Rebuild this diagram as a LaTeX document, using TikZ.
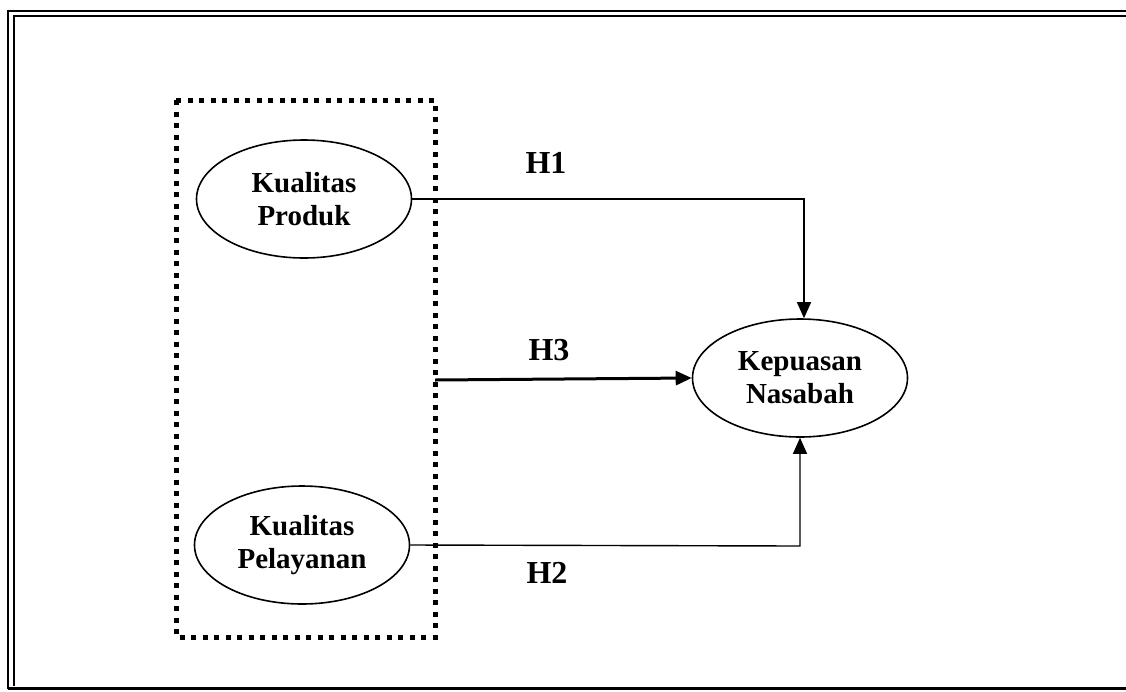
\documentclass[tikz,border=0pt]{standalone}
\usepackage{fontspec}
\setmainfont{Liberation Serif}
\usetikzlibrary{shapes.geometric,arrows.meta}
\begin{document}
\begin{tikzpicture}[x=1pt,y=-1pt,
  var/.style={draw,ellipse,line width=1.6pt,minimum width=215pt,minimum height=118pt,inner sep=0pt,align=center,font=\fontsize{29}{33}\selectfont\bfseries},
  hlab/.style={font=\fontsize{32}{34}\selectfont\bfseries,inner sep=0pt},
  conn/.style={line width=1.4pt},
  tip/.style={-{Triangle[length=16pt,width=14pt]}}]
\useasboundingbox (0,0) rectangle (1126,691);
% outer frame
\draw[line width=1.8pt] (8,689) -- (8,11) -- (1140,11);
\draw[line width=1.8pt] (14,686) -- (14,16) -- (1140,16);
\draw[line width=3pt] (8,688) -- (1140,688);
% dotted group
\draw[line width=5pt,dash pattern=on 5pt off 6.5pt] (176,100) rectangle (435,637);
% nodes
\node[var] (kp) at (304,199) {Kualitas\\Produk};
\node[var] (kl) at (302,545) {Kualitas\\Pelayanan};
\node[var] (kn) at (800,378) {Kepuasan\\Nasabah};
\coordinate (c1) at (804,199);
\coordinate (c2) at (800,546);
\coordinate (c3) at (435,380);
% connectors
\draw[conn,tip] (kp.east) -- (c1) -- (c1 |- kn.north);
\draw[conn,tip] (kl.east) -- (c2) -- (kn.south);
\draw[line width=3pt,tip] (c3) -- (kn.west);
% labels
\node[hlab] (h1) at (546,163) {H1};
\node[hlab] (h3) at (549,350) {H3};
\node[hlab] (h2) at (547,573) {H2};
\end{tikzpicture}
\end{document}
